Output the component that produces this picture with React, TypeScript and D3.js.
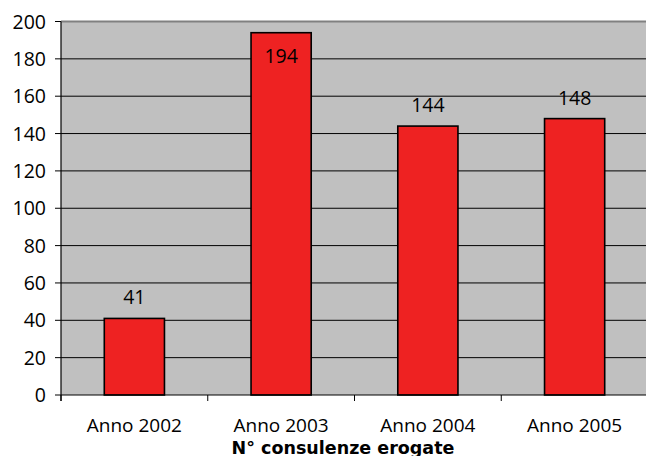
import React from "react";
import * as d3 from "d3";

const categories = ["Anno 2002", "Anno 2003", "Anno 2004", "Anno 2005"];
const values = [41, 194, 144, 148];
const yTicks = [0, 20, 40, 60, 80, 100, 120, 140, 160, 180, 200];
const title = "N° consulenze erogate";

export default function App() {
  const W = 646, H = 456;
  const left = 61, right = 648, top = 21.5, bottom = 395;
  const x = d3.scaleBand<string>().domain(categories).range([left, right]).paddingInner(0.59).paddingOuter(0.295);
  const xb = d3.scaleBand<string>().domain(categories).range([left, right]);
  const y = d3.scaleLinear().domain([0, 200]).range([bottom, top]);
  const font = "'Open Sans', sans-serif";
  return (
    <svg width={W} height={H} style={{ position: "absolute", left: 0, top: 0 }} fontFamily={font}>
      <rect x={0} y={0} width={W} height={H} fill="#fff" />
      <rect x={left} y={top} width={right - left} height={bottom - top} fill="#c0c0c0" />
      {yTicks.map((t) => (
        <g key={t}>
          {t > 0 && t < 200 && <line x1={left} x2={right} y1={y(t)} y2={y(t)} stroke="#000" strokeWidth={1} />}
          <line x1={left - 6} x2={left} y1={y(t)} y2={y(t)} stroke="#000" strokeWidth={1} />
          <text x={46} y={y(t)} dy="0.36em" textAnchor="end" fontSize={19.5} fill="#000">{t}</text>
        </g>
      ))}
      <line x1={left} x2={right} y1={top} y2={top} stroke="#808080" strokeWidth={2} />
      {values.map((v, i) => {
        const c = categories[i];
        const bx = x(c)!;
        const by = y(v);
        const inside = by - 16 < top + 10;
        return (
          <g key={c}>
            <rect x={bx} y={by} width={x.bandwidth()} height={bottom - by} fill="#ee2222" stroke="#000" strokeWidth={1.6} />
            <text x={bx + x.bandwidth() / 2} y={inside ? by + 30 : by - 14} textAnchor="middle" fontSize={19.5} fill="#000">{v}</text>
          </g>
        );
      })}
      <line x1={left} x2={right} y1={bottom} y2={bottom} stroke="#000" strokeWidth={1.2} />
      <line x1={left} x2={left} y1={top} y2={bottom + 6} stroke="#000" strokeWidth={1.2} />
      {categories.map((c) => (
        <g key={c}>
          <line x1={xb(c)!} x2={xb(c)!} y1={bottom} y2={bottom + 6} stroke="#000" strokeWidth={1} />
          <text x={xb(c)! + xb.bandwidth() / 2} y={432} textAnchor="middle" fontSize={19} fill="#000">{c}</text>
        </g>
      ))}
      <text x={343} y={453.5} textAnchor="middle" fontSize={17.5} fontWeight="bold" fontFamily="'DejaVu Sans', sans-serif" fill="#000">{title}</text>
    </svg>
  );
}
